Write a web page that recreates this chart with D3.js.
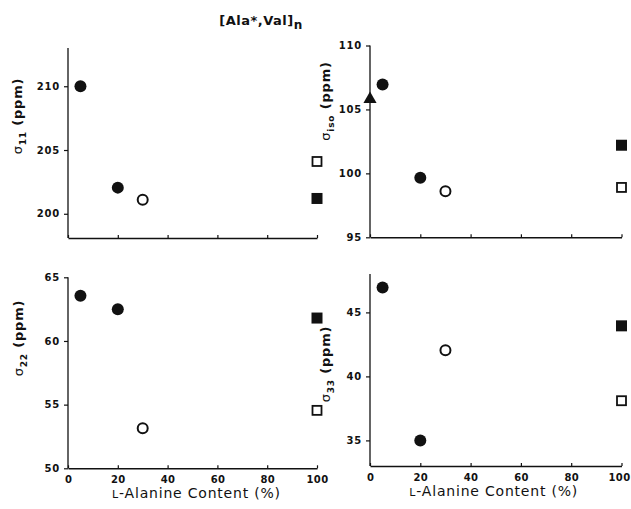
<!DOCTYPE html>
<html>
<head>
<meta charset="utf-8">
<script src="https://cdn.jsdelivr.net/npm/d3@7"></script>
<style>
  body { margin: 0; background: #fff; }
  svg { display: block; }
  text { font-family: "DejaVu Sans", "Liberation Sans", sans-serif; font-weight: bold; fill: #111; }
</style>
</head>
<body>
<div id="chart"></div>
<script>

// ---- data ----
var xTicks = [0, 20, 40, 60, 80, 100];

var alaFilledCircle = [5, 20];     // filled circles
var alaOpenCircle = [30];          // open circle
var alaSquare = [100];             // squares (filled + open)
var alaTriangle = [0];             // triangle (iso only)

var s11Filled = [210, 202.05];
var s11Open = [201.1];
var s11SquareFilled = [201.2];
var s11SquareOpen = [204.1];
var s11Ticks = [200, 205, 210];

var isoFilled = [106.95, 99.65];
var isoOpen = [98.6];
var isoSquareFilled = [102.2];
var isoSquareOpen = [98.9];
var isoTriangle = [105.8];
var isoTicks = [95, 100, 105, 110];

var s22Filled = [63.55, 62.5];
var s22Open = [53.15];
var s22SquareFilled = [61.8];
var s22SquareOpen = [54.55];
var s22Ticks = [50, 55, 60, 65];

var s33Filled = [46.95, 35];
var s33Open = [42.05];
var s33SquareFilled = [43.95];
var s33SquareOpen = [38.1];
var s33Ticks = [35, 40, 45];

var W = 631, H = 509;

var svg = d3.select('#chart').append('svg').attr('width', W).attr('height', H);

var panels = [
    {left: 68, top: 48, w: 249, h: 190, ydom: [198.1, 213], yticks: s11Ticks, sub: '11', labelX: 22, labelY: 116, xlabels: false,
     filled: s11Filled, open: s11Open, sqF: s11SquareFilled, sqO: s11SquareOpen, tri: null},
    {left: 370, top: 45.5, w: 251.5, h: 191.8, ydom: [95, 110], yticks: isoTicks, sub: 'iso', labelX: 330, labelY: 101, xlabels: false,
     filled: isoFilled, open: isoOpen, sqF: isoSquareFilled, sqO: isoSquareOpen, tri: isoTriangle},
    {left: 68, top: 277.3, w: 249, h: 191, ydom: [50, 65], yticks: s22Ticks, sub: '22', labelX: 23, labelY: 338, xlabels: true,
     filled: s22Filled, open: s22Open, sqF: s22SquareFilled, sqO: s22SquareOpen, tri: null},
    {left: 370, top: 274, w: 251.5, h: 192, ydom: [33, 48], yticks: s33Ticks, sub: '33', labelX: 330, labelY: 364, xlabels: true,
     filled: s33Filled, open: s33Open, sqF: s33SquareFilled, sqO: s33SquareOpen, tri: null}
];

panels.forEach(function(p) {
    var x = d3.scaleLinear().domain([0, 100]).range([p.left, p.left + p.w]);
    var y = d3.scaleLinear().domain(p.ydom).range([p.top + p.h, p.top]);
    var g = svg.append('g');

    // y axis: ticks outward (left)
    var yAxis = g.append('g').attr('transform', 'translate(' + p.left + ',0)')
        .call(d3.axisLeft(y).tickValues(p.yticks).tickSize(4).tickPadding(4).tickSizeOuter(0));
    yAxis.select('.domain').attr('d', 'M0,' + (p.top + p.h) + 'V' + p.top).attr('stroke', '#111').attr('stroke-width', 1.3);
    yAxis.selectAll('.tick line').attr('stroke', '#111').attr('stroke-width', 1.2);
    yAxis.selectAll('.tick text').style('font-size', '10px').style('font-family', '"DejaVu Sans"')
        .style('letter-spacing', '0.8px').attr('fill', '#111');

    // x axis: short ticks pointing up
    var xAxis = g.append('g').attr('transform', 'translate(0,' + (p.top + p.h) + ')')
        .call(d3.axisBottom(x).tickValues(xTicks).tickSize(-3).tickPadding(8).tickSizeOuter(0)
              .tickFormat(p.xlabels ? d3.format('d') : ''));
    xAxis.select('.domain').attr('stroke', '#111').attr('stroke-width', 1.6);
    xAxis.selectAll('.tick line').attr('stroke', '#111').attr('stroke-width', 1.2);
    xAxis.selectAll('.tick text').style('font-size', '10px').style('font-family', '"DejaVu Sans"')
        .style('letter-spacing', '0.3px').attr('fill', '#111');
    // keep the right-most label inside the page
    xAxis.selectAll('.tick text').filter(function(d) { return d === 100 && p.left > 300; }).attr('dx', -2.5);

    // y label (rotated, sigma with subscript)
    var lab = g.append('text')
        .attr('transform', 'translate(' + p.labelX + ',' + p.labelY + ') rotate(-90)')
        .attr('text-anchor', 'middle')
        .style('font-size', '13px')
        .style('letter-spacing', '0.8px');
    lab.append('tspan').text('σ').style('font-weight', 'normal');
    lab.append('tspan').text(p.sub).attr('dy', 4).style('font-size', '9px');
    lab.append('tspan').text(' (ppm)').attr('dy', -4);

    // marks
    var r = 6, s = 11;
    g.selectAll('.fc').data(p.filled).enter().append('circle')
        .attr('cx', function(d, i) { return x(alaFilledCircle[i]); })
        .attr('cy', function(d) { return y(d); })
        .attr('r', r).attr('fill', '#111');
    g.selectAll('.oc').data(p.open).enter().append('circle')
        .attr('cx', function(d, i) { return x(alaOpenCircle[i]); })
        .attr('cy', function(d) { return y(d); })
        .attr('r', r - 1).attr('fill', '#fff').attr('stroke', '#111').attr('stroke-width', 2);
    g.selectAll('.sf').data(p.sqF).enter().append('rect')
        .attr('x', function(d, i) { return x(alaSquare[i]) - s / 2; })
        .attr('y', function(d) { return y(d) - s / 2; })
        .attr('width', s).attr('height', s).attr('fill', '#111');
    g.selectAll('.so').data(p.sqO).enter().append('rect')
        .attr('x', function(d, i) { return x(alaSquare[i]) - s / 2 + 1; })
        .attr('y', function(d) { return y(d) - s / 2 + 1; })
        .attr('width', s - 2).attr('height', s - 2)
        .attr('fill', '#fff').attr('stroke', '#111').attr('stroke-width', 1.8);
    if (p.tri) {
        g.selectAll('.tri').data(p.tri).enter().append('path')
            .attr('transform', function(d, i) { return 'translate(' + x(alaTriangle[i]) + ',' + y(d) + ')'; })
            .attr('d', d3.symbol().type(d3.symbolTriangle).size(75))
            .attr('fill', '#111');
    }

    if (p.xlabels) {
        g.append('text')
            .attr('x', p.left + p.w / 2 + (p.left < 100 ? 4 : -2))
            .attr('y', p.top + p.h + 30)
            .attr('text-anchor', 'middle')
            .style('font-size', '14px')
            .style('font-weight', 'normal')
            .style('letter-spacing', '0.8px')
            .html('<tspan style="font-size:11px">L</tspan>-Alanine Content (%)');
    }
});

// title
var title = svg.append('text').attr('x', 261).attr('y', 25).attr('text-anchor', 'middle')
    .style('font-size', '13px').style('letter-spacing', '0.5px');
title.append('tspan').text('[Ala*,Val]');
title.append('tspan').text('n').attr('dy', 4).style('font-size', '12px').attr('fill', '#111');

</script>
</body>
</html>
